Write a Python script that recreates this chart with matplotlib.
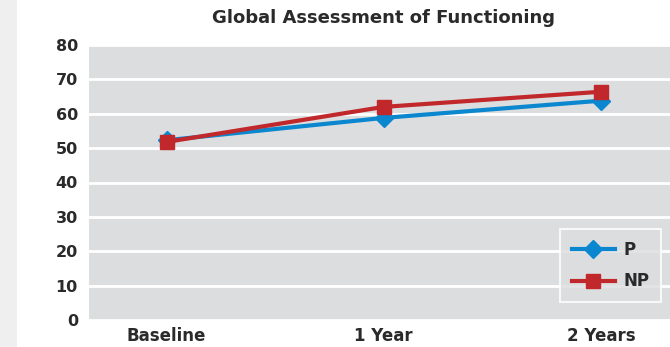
import matplotlib.pyplot as plt
from matplotlib.patches import Rectangle

# GAF scores by time point
timepoints = ["Baseline", "1 Year", "2 Years"]
p_scores = [52.3, 58.8, 63.8]
np_scores = [51.8, 62.0, 66.4]
yticks = [0, 10, 20, 30, 40, 50, 60, 70, 80]

plt.rcParams['font.family'] = ['DejaVu Sans']

W, H = 670, 347
fig = plt.figure(figsize=(W / 100, H / 100), dpi=100)
fig.patch.set_facecolor("white")
# light strip down the left side
fig.patches.append(Rectangle((0, 0), 17 / W, 1, transform=fig.transFigure,
                             facecolor="#efefef", edgecolor="none", zorder=0))

left, right, top, bottom = 89, 670, 45, 320
ax = fig.add_axes([left / W, (H - bottom) / H, (right - left) / W, (bottom - top) / H])
ax.set_facecolor("#dcdddf")
for s in ax.spines.values():
    s.set_visible(False)

x = range(len(timepoints))
ax.plot(x, p_scores, color="#0a87cf", lw=3, marker="D", ms=9,
        label="P", zorder=3)
ax.plot(x, np_scores, color="#c1282b", lw=3, marker="s", ms=10,
        label="NP", zorder=4)

ax.set_xlim(-0.357, 2.318)
ax.set_ylim(0, 80)
ax.set_yticks(yticks)
ax.set_xticks(list(x))
ax.set_xticklabels(timepoints)
ax.yaxis.grid(True, color="white", lw=2)
ax.set_axisbelow(True)
ax.tick_params(length=0, colors="#2a2a2a")
ax.tick_params(axis="x", pad=5, labelsize=12)
ax.tick_params(axis="y", pad=8, labelsize=11.5)
for lab in ax.get_xticklabels() + ax.get_yticklabels():
    lab.set_fontweight("bold")

fig.text(383.5 / W, 1 - 18 / H, "Global Assessment of Functioning",
         ha="center", va="center", fontsize=13, fontweight="bold",
         color="#2a2a2a")

leg = ax.legend(loc="lower right", bbox_to_anchor=(0.9845, 0.065),
                frameon=True, fancybox=False, prop={"size": 12, "weight": "bold"},
                handlelength=2.6, handletextpad=0.5, borderpad=0.7,
                labelspacing=0.8, borderaxespad=0)
for t in leg.get_texts():
    t.set_color("#2a2a2a")
leg.get_frame().set_facecolor("#dcdddf")
leg.get_frame().set_edgecolor("white")
leg.get_frame().set_linewidth(1.5)

fig.savefig("out.png", dpi=100)
